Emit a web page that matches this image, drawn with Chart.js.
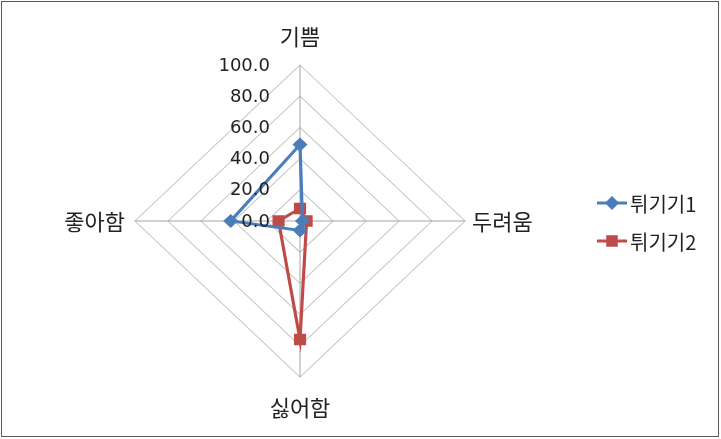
<!DOCTYPE html>
<html><head><meta charset="utf-8">
<script src="https://cdn.jsdelivr.net/npm/chart.js@4/dist/chart.umd.min.js"></script>
<style>html,body{margin:0;padding:0;background:#fff}canvas{display:block}</style>
</head><body>
<canvas id="c" width="721" height="439"></canvas>
<script>
const categories = ['기쁨', '두려움', '싫어함', '좋아함'];
const seriesNames = ['튀기기1', '튀기기2'];
const series1 = [49, 1.5, 6, 42];
const series2 = [8, 4, 76, 13];
const tickValues = [0, 20, 40, 60, 80, 100];
const colors = ['#4a7ebb', '#be4b48'];

const SX = 165 / 156; // Excel plot area is slightly wider than tall
const KFONT = '"Noto Sans CJK KR", "Noto Sans", sans-serif';

const stretch = {
  id: 'stretch',
  beforeDraw(chart) {
    const s = chart.scales.r, ctx = chart.ctx;
    ctx.save();
    ctx.translate(s.xCenter, s.yCenter);
    ctx.scale(SX, 1);
    ctx.translate(-s.xCenter, -s.yCenter);
  },
  afterDatasetsDraw(chart) { chart.ctx.restore(); },
  afterDraw(chart) {
    const s = chart.scales.r, ctx = chart.ctx;
    const cx = s.xCenter, cy = s.yCenter;
    const P = (i, v) => { const p = s.getPointPositionForValue(i, v); return {x: cx + (p.x - cx) * SX, y: p.y}; };
    ctx.save();
    // tick labels
    ctx.fillStyle = '#222';
    ctx.font = '18px "DejaVu Sans", sans-serif';
    ctx.textAlign = 'right'; ctx.textBaseline = 'middle';
    tickValues.forEach(v => {
      const y = cy - s.getDistanceFromCenterForValue(v);
      ctx.fillText(v.toFixed(1), cx - 30, y + 1);
    });
    // point labels
    ctx.font = '22px ' + KFONT;
    ctx.fillStyle = '#222';
    const top = P(0, 100), right = P(1, 100), bottom = P(2, 100), left = P(3, 100);
    ctx.textAlign = 'center'; ctx.textBaseline = 'middle';
    ctx.fillText(categories[0], top.x, top.y - 28);
    ctx.fillText(categories[2], bottom.x, bottom.y + 31);
    ctx.textAlign = 'left';
    ctx.fillText(categories[1], right.x + 7, right.y + 1);
    ctx.textAlign = 'right';
    ctx.fillText(categories[3], left.x - 10, left.y + 1);
    // legend
    const ly = [203, 241];
    chart.data.datasets.forEach((ds, i) => {
      const y = ly[i];
      ctx.strokeStyle = ds.borderColor; ctx.lineWidth = 3;
      ctx.beginPath(); ctx.moveTo(597, y); ctx.lineTo(627, y); ctx.stroke();
      Chart.helpers.drawPoint(ctx, {pointStyle: ds.pointStyle, radius: ds.pointRadius, rotation: 0, borderWidth: 1}, 612, y);
      ctx.fillStyle = ds.borderColor;
      ctx.fill();
      ctx.fillStyle = '#222';
      ctx.font = '20px ' + KFONT;
      ctx.textAlign = 'left'; ctx.textBaseline = 'middle';
      ctx.fillText(ds.label, 630, y + 1);
    });
    // frame
    ctx.strokeStyle = '#595959'; ctx.lineWidth = 1;
    ctx.strokeRect(1.5, 1.5, 717, 435);
    ctx.restore();
  }
};

new Chart(document.getElementById('c'), {
  type: 'radar',
  data: {
    labels: categories,
    datasets: [
      {label: seriesNames[0], data: series1, borderColor: colors[0], backgroundColor: colors[0],
       pointBackgroundColor: colors[0], pointBorderColor: colors[0], pointStyle: 'rectRot', pointRadius: 5,
       borderWidth: 3, fill: false},
      {label: seriesNames[1], data: series2, borderColor: colors[1], backgroundColor: colors[1],
       pointBackgroundColor: colors[1], pointBorderColor: colors[1], pointStyle: 'rect', pointRadius: 6,
       borderWidth: 3, fill: false}
    ]
  },
  options: {
    responsive: false, animation: false,
    layout: {padding: {top: 65, bottom: 62, left: 144, right: 265}},
    plugins: {legend: {display: false}, tooltip: {enabled: false}},
    elements: {line: {tension: 0}},
    scales: {r: {
      min: 0, max: 100, startAngle: 0,
      ticks: {display: false, stepSize: 20},
      pointLabels: {display: false},
      grid: {color: '#c4c4c4', lineWidth: 1},
      angleLines: {color: '#a6a6a6', lineWidth: 1}
    }}
  },
  plugins: [stretch]
});
</script>
</body></html>
